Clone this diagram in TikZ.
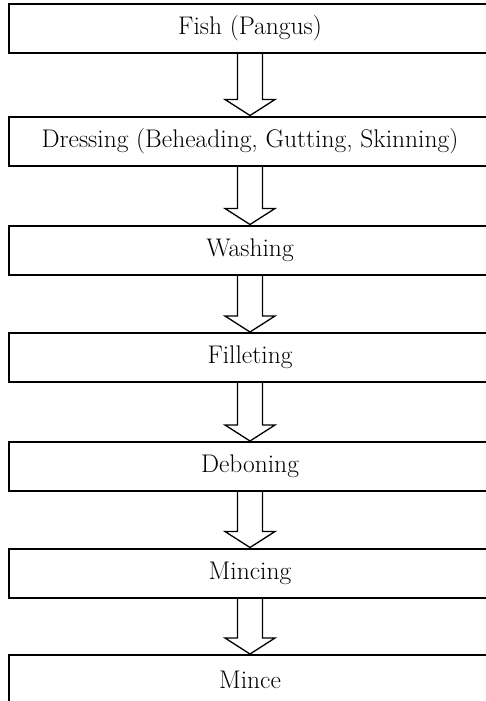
\documentclass[tikz,border=0pt]{standalone}
\usepackage{tikz}
\usetikzlibrary{calc}
\tikzset{
  stagebox/.style={draw=black, line width=2pt, fill=white, minimum width=482pt, minimum height=49pt, inner sep=0pt, font=\fontsize{25.5}{28}\selectfont},
  blockarrow/.style={draw=black, line width=1.3pt, line join=miter, to path={
    ($(\tikztostart)+(-12.5,0)$) -- ($(\tikztotarget)+(-12.5,-16)$) -- ($(\tikztotarget)+(-25,-16)$)
    -- (\tikztotarget) -- ($(\tikztotarget)+(25,-16)$) -- ($(\tikztotarget)+(12.5,-16)$) -- ($(\tikztostart)+(12.5,0)$)}}
}

\begin{document}
\begin{tikzpicture}[x=1pt,y=-1pt]
\useasboundingbox (0,0) rectangle (485,701);
\node[stagebox] (fish) at (250,28.5) {Fish (Pangus)};
\node[stagebox] (dress) at (250,141) {Dressing (Beheading, Gutting, Skinning)};
\node[stagebox] (wash) at (250,250) {Washing};
\node[stagebox] (fillet) at (250,357.5) {Filleting};
\node[stagebox] (debone) at (250,466.5) {Deboning};
\node[stagebox] (mincing) at (250,573) {Mincing};
\node[stagebox] (mince) at (250,679.5) {Mince};
\draw[blockarrow] (fish.south) to (dress.north);
\draw[blockarrow] (dress.south) to (wash.north);
\draw[blockarrow] (wash.south) to (fillet.north);
\draw[blockarrow] (fillet.south) to (debone.north);
\draw[blockarrow] (debone.south) to (mincing.north);
\draw[blockarrow] (mincing.south) to (mince.north);
\end{tikzpicture}
\end{document}
